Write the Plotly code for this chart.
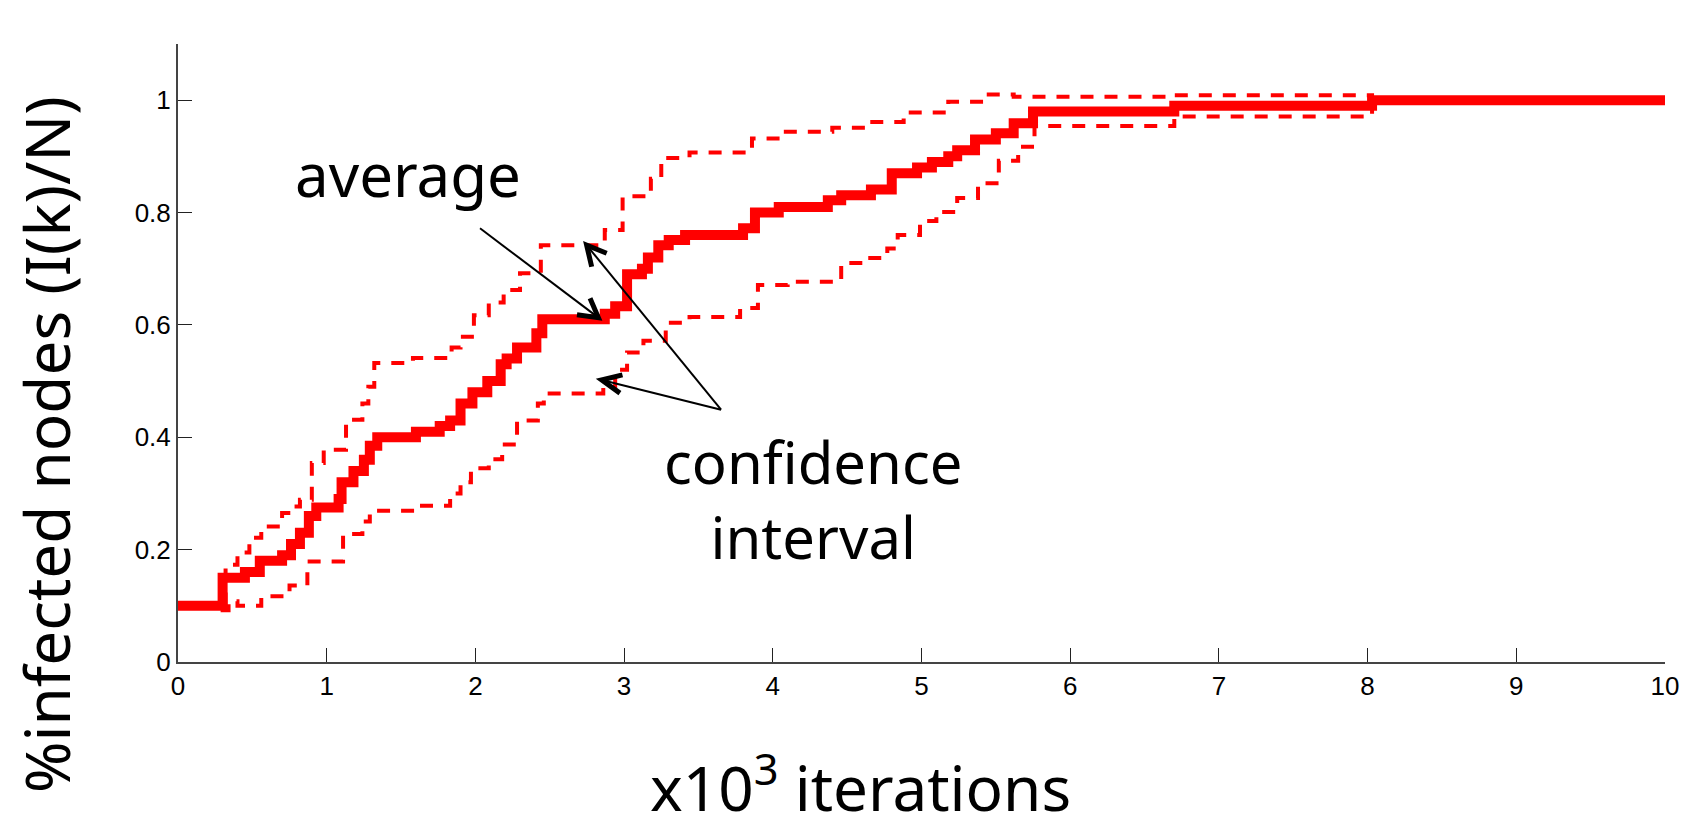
import plotly.graph_objects as go

# ---- data (x in thousands of iterations, y = fraction infected) ----
avg_x = [0, 0.30, 0.45, 0.55, 0.70, 0.76, 0.82, 0.88, 0.93, 1.08, 1.10, 1.18, 1.25, 1.29, 1.34,
         1.60, 1.76, 1.83, 1.90, 1.98, 2.08, 2.17, 2.21, 2.28, 2.41, 2.45, 2.87, 2.94, 3.02, 3.12,
         3.16, 3.23, 3.30, 3.41, 3.80, 3.88, 4.04, 4.37, 4.46, 4.66, 4.80, 4.97, 5.07, 5.18, 5.24,
         5.36, 5.50, 5.62, 5.75, 6.70, 8.03, 10.0]
avg_y = [0.10, 0.15, 0.16, 0.18, 0.19, 0.21, 0.23, 0.26, 0.275, 0.29, 0.32, 0.34, 0.36, 0.385, 0.40,
         0.41, 0.42, 0.43, 0.46, 0.48, 0.50, 0.53, 0.54, 0.56, 0.585, 0.61, 0.62, 0.633, 0.69, 0.70,
         0.72, 0.742, 0.751, 0.76, 0.772, 0.80, 0.81, 0.822, 0.831, 0.841, 0.87, 0.88, 0.89, 0.90, 0.911,
         0.93, 0.941, 0.959, 0.98, 0.99, 1.00, 1.00]

upper_x = [0, 0.32, 0.40, 0.48, 0.56, 0.70, 0.76, 0.82, 0.90, 0.98, 1.13, 1.24, 1.28, 1.32, 1.58,
           1.84, 1.90, 1.99, 2.09, 2.19, 2.30, 2.44, 2.87, 2.99, 3.18, 3.25, 3.44, 3.86, 4.07, 4.40,
           4.64, 4.88, 5.18, 5.42, 5.62, 6.70, 8.03, 10.0]
upper_y = [0.10, 0.173, 0.195, 0.221, 0.241, 0.265, 0.277, 0.289, 0.354, 0.378, 0.431, 0.46, 0.49, 0.532, 0.541,
           0.56, 0.579, 0.617, 0.64, 0.662, 0.692, 0.742, 0.769, 0.829, 0.86, 0.897, 0.907, 0.932, 0.944, 0.951,
           0.961, 0.978, 0.997, 1.01, 1.006, 1.009, 1.00, 1.00]

lower_x = [0, 0.30, 0.34, 0.40, 0.56, 0.75, 0.87, 1.11, 1.24, 1.29, 1.60, 1.83, 1.90, 1.97, 2.09,
           2.18, 2.28, 2.42, 2.46, 2.86, 2.94, 3.02, 3.13, 3.28, 3.44, 3.78, 3.90, 4.10, 4.46, 4.64,
           4.77, 4.84, 4.99, 5.10, 5.24, 5.38, 5.52, 5.65, 5.76, 6.70, 8.03, 10.0]
lower_y = [0.10, 0.092, 0.108, 0.100, 0.117, 0.136, 0.179, 0.228, 0.25, 0.269, 0.278, 0.30, 0.32, 0.345, 0.361,
           0.387, 0.43, 0.46, 0.478, 0.49, 0.52, 0.551, 0.572, 0.604, 0.614, 0.63, 0.671, 0.677, 0.71, 0.719,
           0.736, 0.76, 0.785, 0.801, 0.826, 0.852, 0.892, 0.917, 0.954, 0.971, 1.00, 1.00]

x_ticks = [0, 1, 2, 3, 4, 5, 6, 7, 8, 9, 10]
y_ticks = [0, 0.2, 0.4, 0.6, 0.8, 1]
y_tick_labels = ["0", "0.2", "0.4", "0.6", "0.8", "1"]

# arrows: (tail, tip, arm1, arm2) in data coordinates
arrows = [
    ((2.031, 0.772), (2.827, 0.613), (2.771, 0.6475), (2.683, 0.618)),
    ((3.652, 0.449), (2.748, 0.742), (2.782, 0.7036), (2.883, 0.7275)),
    ((3.652, 0.449), (2.849, 0.502), (2.972, 0.4786), (2.989, 0.511)),
]

# page has an 8px body margin; figure sized so that page coordinates match the reference
OFF = 8
W, H = 1694 - OFF, 822 - OFF
ML, MR, MT, MB = 178 - OFF, 29, 44 - OFF, 160
PW, PH = W - ML - MR, H - MT - MB


def px_to_paper(px, py):
    # px, py are page coordinates
    return (px - OFF - ML) / PW, (H - MB - (py - OFF)) / PH


RED = "#FF0000"
TEXT_FONT = "Noto Sans"
TICK_FONT = "Liberation Sans"

fig = go.Figure()
fig.add_trace(go.Scatter(x=upper_x, y=upper_y, mode="lines", line_shape="hv",
                         line=dict(color=RED, width=4, dash="13px,11px"), showlegend=False,
                         hoverinfo="skip"))
fig.add_trace(go.Scatter(x=lower_x, y=lower_y, mode="lines", line_shape="hv",
                         line=dict(color=RED, width=4, dash="13px,11px"), showlegend=False,
                         hoverinfo="skip"))
fig.add_trace(go.Scatter(x=avg_x, y=avg_y, mode="lines", line_shape="hv",
                         line=dict(color=RED, width=10), showlegend=False, hoverinfo="skip"))

shapes = []
for tail, tip, a1, a2 in arrows:
    shapes.append(dict(type="line", xref="x", yref="y", x0=tail[0], y0=tail[1], x1=tip[0], y1=tip[1],
                       line=dict(color="black", width=2)))
    shapes.append(dict(type="path", xref="x", yref="y",
                       path=f"M {a1[0]},{a1[1]} L {tip[0]},{tip[1]} L {a2[0]},{a2[1]}",
                       line=dict(color="black", width=5)))

annotations = []


def add_text(text, px, py, size, angle=0):
    x, y = px_to_paper(px, py)
    annotations.append(dict(text=text, x=x, y=y, xref="paper", yref="paper", showarrow=False,
                            xanchor="center", yanchor="middle", textangle=angle, align="center",
                            borderpad=0,
                            font=dict(family=TEXT_FONT, size=size, color="black")))


add_text("average", 408, 174, 60)
add_text("confidence<br>interval", 813, 499, 58)
add_text("x10<sup>3</sup> iterations", 860, 784, 62)
add_text("%infected nodes (I(k)/N)", 46, 445, 62, angle=-90)

fig.update_layout(
    width=W, height=H,
    margin=dict(l=ML, r=MR, t=MT, b=MB, pad=0),
    paper_bgcolor="white", plot_bgcolor="white",
    shapes=shapes, annotations=annotations,
    xaxis=dict(range=[0, 10], tickvals=x_ticks, ticks="inside", ticklen=14, tickwidth=1,
               tickcolor="#222", showline=True, linecolor="#444", linewidth=2, showgrid=False,
               zeroline=False, tickfont=dict(family=TICK_FONT, size=26, color="black")),
    yaxis=dict(range=[0, 1.1], tickvals=y_ticks, ticktext=y_tick_labels, ticks="inside", ticklen=14,
               tickwidth=1, tickcolor="#222", showline=True, linecolor="#444", linewidth=2,
               showgrid=False, zeroline=False,
               tickfont=dict(family=TICK_FONT, size=26, color="black")),
)

fig.write_html("out.html")
